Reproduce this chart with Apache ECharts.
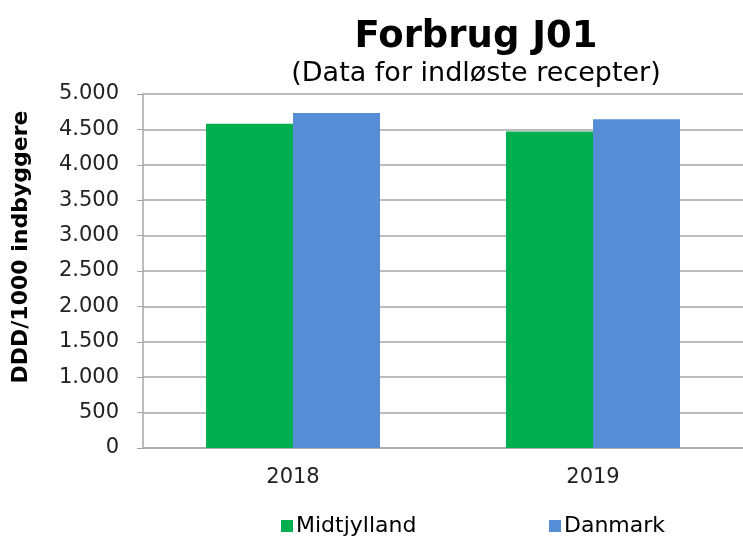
<!DOCTYPE html>
<html>
<head>
<meta charset="utf-8">
<script src="https://cdn.jsdelivr.net/npm/echarts@6/dist/echarts.min.js"></script>
<style>
  html, body { margin: 0; padding: 0; background: #fff; }
  #chart { width: 743px; height: 538px; }
</style>
</head>
<body>
<div id="chart"></div>
<script>
// data
var years = ['2018', '2019'];
var midtjylland = [4580, 4470];
var danmark = [4730, 4645];
var yTicks = [0, 500, 1000, 1500, 2000, 2500, 3000, 3500, 4000, 4500, 5000];

var font = 'DejaVu Sans';
var gray = '#a6a6a6';

// 4500 -> 4.500
function dk(v) {
    return String(v).replace(/\B(?=(\d{3})+(?!\d))/g, '.');
}

var legendText = { fontFamily: font, fontSize: 22, color: '#000', padding: [0, 0, 0, -2] };

var chart = echarts.init(document.getElementById('chart'));
chart.setOption({
    animation: false,
    title: [
        {
            text: 'Forbrug J01',
            left: 471, top: 14, textAlign: 'center',
            textStyle: { fontFamily: font, fontSize: 37, fontWeight: 'bold', color: '#000' }
        },
        {
            text: '(Data for indløste recepter)',
            left: 471, top: 55, textAlign: 'center',
            textStyle: { fontFamily: font, fontSize: 27, fontWeight: 'normal', color: '#000' }
        }
    ],
    legend: [
        {
            top: 510, left: 276,
            itemWidth: 12, itemHeight: 12, icon: 'rect',
            textStyle: legendText,
            data: ['Midtjylland']
        },
        {
            top: 510, left: 544,
            itemWidth: 12, itemHeight: 12, icon: 'rect',
            textStyle: legendText,
            data: ['Danmark']
        }
    ],
    grid: { left: 143, width: 606, top: 94, bottom: 90 },
    xAxis: {
        type: 'category',
        data: years,
        axisLine: { lineStyle: { color: gray, width: 1.5 } },
        axisTick: { show: false },
        axisLabel: { fontFamily: font, fontSize: 21, color: '#222', margin: 19 }
    },
    yAxis: {
        type: 'value',
        min: yTicks[0], max: yTicks[yTicks.length - 1], interval: 500,
        name: 'DDD/1000 indbyggere',
        nameLocation: 'middle', nameGap: 111,
        nameTextStyle: { fontFamily: font, fontSize: 22, fontWeight: 'bold', color: '#000', padding: [0, 0, 0, 48] },
        axisLine: { show: true, lineStyle: { color: gray, width: 1.5 } },
        axisTick: { show: true, length: 6, lineStyle: { color: gray } },
        splitLine: { lineStyle: { color: gray, width: 1.5 } },
        axisLabel: { fontFamily: font, fontSize: 21, color: '#222', margin: 24, formatter: dk }
    },
    series: [
        {
            name: 'Midtjylland', type: 'bar', data: midtjylland,
            barWidth: 87, barGap: '0%',
            itemStyle: { color: '#00b050' }
        },
        {
            name: 'Danmark', type: 'bar', data: danmark,
            barWidth: 87,
            itemStyle: { color: '#558ed5' }
        }
    ]
});
</script>
</body>
</html>
